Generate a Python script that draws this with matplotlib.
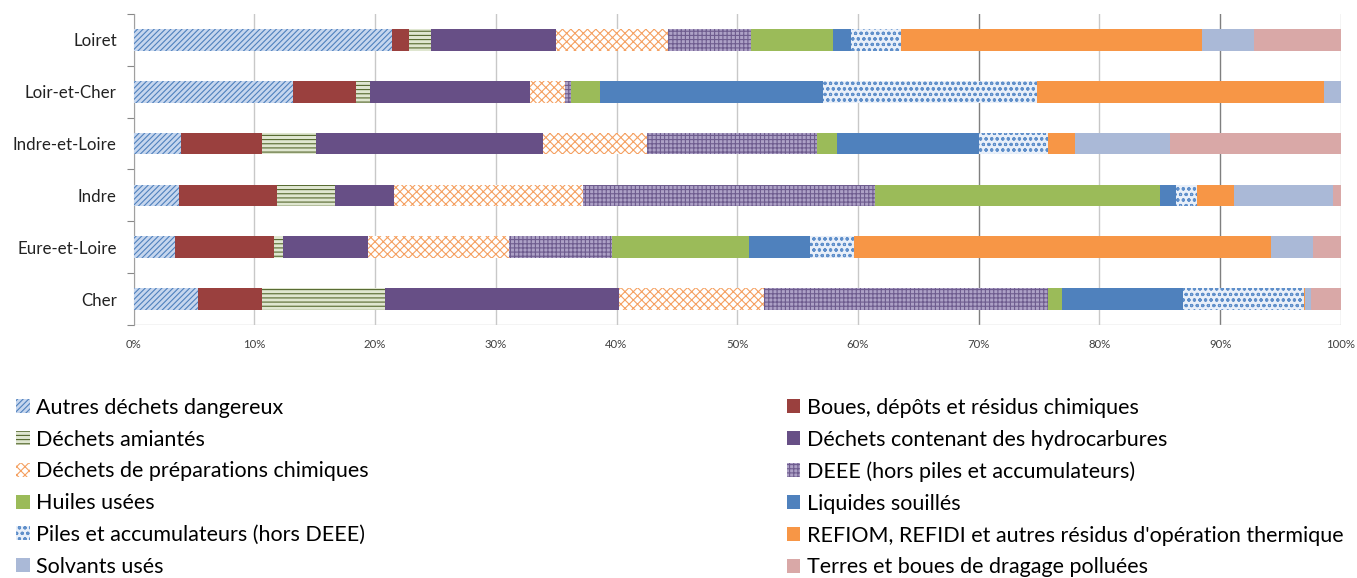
import matplotlib
matplotlib.use("Agg")
import matplotlib.pyplot as plt
import matplotlib.patches as mpatches
import numpy as np

plt.rcParams['font.family'] = ['Lato', 'DejaVu Sans']
plt.rcParams['hatch.linewidth'] = 0.8

departements = ["Cher", "Eure-et-Loire", "Indre", "Indre-et-Loire", "Loir-et-Cher", "Loiret"]

autres_dangereux = [5.3, 3.4, 3.8, 3.9, 13.2, 21.4]
boues = [5.3, 8.2, 8.1, 6.7, 5.2, 1.4]
amiantes = [10.2, 0.8, 4.8, 4.5, 1.2, 1.8]
hydrocarbures = [19.4, 7.0, 4.9, 18.8, 13.2, 10.4]
prep_chimiques = [12.0, 11.7, 15.6, 8.6, 2.9, 9.3]
deee = [23.5, 8.5, 24.2, 14.1, 0.5, 6.8]
huiles = [1.2, 11.4, 23.6, 1.7, 2.4, 6.8]
liquides = [10.0, 5.0, 1.3, 11.7, 18.5, 1.5]
piles = [10.0, 3.7, 1.8, 5.7, 17.7, 4.2]
refiom = [0.1, 34.5, 3.0, 2.3, 23.8, 24.9]
solvants = [0.5, 3.5, 8.2, 7.8, 1.4, 4.3]
terres = [2.5, 2.3, 0.7, 14.2, 0.0, 7.2]

series_names = [
    "Autres déchets dangereux",
    "Boues, dépôts et résidus chimiques",
    "Déchets amiantés",
    "Déchets contenant des hydrocarbures",
    "Déchets de préparations chimiques",
    "DEEE (hors piles et accumulateurs)",
    "Huiles usées",
    "Liquides souillés",
    "Piles et accumulateurs (hors DEEE)",
    "REFIOM, REFIDI et autres résidus d'opération thermique",
    "Solvants usés",
    "Terres et boues de dragage polluées",
]
series_values = [autres_dangereux, boues, amiantes, hydrocarbures, prep_chimiques,
                 deee, huiles, liquides, piles, refiom, solvants, terres]

# (facecolor, hatch, hatch/edge color)
styles = [
    ("#c6d6ee", "//////", "#4f81bd"),
    ("#9a403e", None, None),
    ("#dfe6d0", "----", "#56692f"),
    ("#674f86", None, None),
    ("#ffffff", "xxxx", "#f5a061"),
    ("#ada1c6", "++++", "#6e5c8e"),
    ("#9bbb59", None, None),
    ("#4f81bd", None, None),
    ("#e8eff9", "ooo", "#5f8fca"),
    ("#f79646", None, None),
    ("#aab9d7", None, None),
    ("#d9a8a7", None, None),
]

fig = plt.figure(figsize=(13.57, 5.78), dpi=100)
ax = fig.add_axes([0.0984, 0.4377, 0.8898, 0.5381])

y = np.arange(len(departements))
left = np.zeros(len(departements))
handles = []
for name, vals, (fc, hatch, hc) in zip(series_names, series_values, styles):
    vals = np.array(vals)
    if hatch:
        ax.barh(y, vals, left=left, height=0.42, color=fc, edgecolor=hc,
                hatch=hatch, linewidth=0, zorder=3)
        h = mpatches.Patch(facecolor=fc, edgecolor=hc, hatch=hatch, linewidth=0, label=name)
    else:
        ax.barh(y, vals, left=left, height=0.42, color=fc, linewidth=0, zorder=3)
        h = mpatches.Patch(facecolor=fc, linewidth=0, label=name)
    handles.append(h)
    left += vals

ax.set_xlim(0, 100)
ax.set_ylim(-0.5, len(departements) - 0.5)
ax.set_xticks(np.arange(0, 101, 10))
ax.set_xticklabels([f"{v}%" for v in range(0, 101, 10)], fontsize=8.2, color="#404040")
ax.set_yticks(y)
ax.set_yticklabels(departements, fontsize=12.2, color="#222222")
ax.tick_params(axis='y', length=0, pad=12)
ax.tick_params(axis='x', length=0, pad=10)
ax.set_yticks(np.arange(-0.5, len(departements), 1), minor=True)
ax.tick_params(axis='y', which='minor', length=5, color="#888888", width=0.8)

for v in range(0, 101, 10):
    col = "#7f7f7f" if v in (70, 90) else "#c8c8c8"
    ax.axvline(v, color=col, linewidth=1, zorder=1)

for s in ("top", "right", "bottom"):
    ax.spines[s].set_visible(False)
ax.spines["left"].set_color("#a0a0a0")
ax.axhline(-0.5, color="#c8c8c8", linewidth=1, zorder=2)

left_h = [handles[i] for i in range(0, 12, 2)]
right_h = [handles[i] for i in range(1, 12, 2)]
common = dict(frameon=False, fontsize=15.5, handlelength=0.62, handleheight=0.62,
              handletextpad=0.3, labelspacing=0.55, borderaxespad=0, borderpad=0)
fig.legend(handles=left_h, labels=[h.get_label() for h in left_h],
           loc="upper left", bbox_to_anchor=(0.012, 0.312), **common)
fig.legend(handles=right_h, labels=[h.get_label() for h in right_h],
           loc="upper left", bbox_to_anchor=(0.580, 0.312), **common)

fig.savefig("out.png", dpi=100)
